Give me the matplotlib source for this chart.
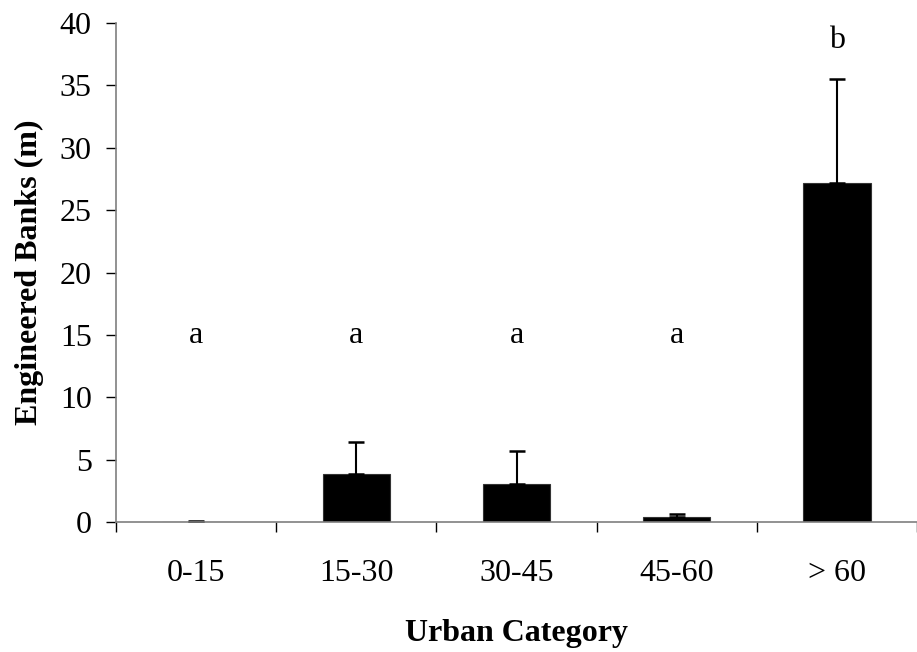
import matplotlib.pyplot as plt
from matplotlib.ticker import FixedLocator

# valeurs
categorias = ['0-15', '15-30', '30-45', '45-60', '> 60']
media = [0.0, 3.87, 3.05, 0.37, 27.2]
erro = [0.05, 2.52, 2.68, 0.29, 8.3]
letras = ['a', 'a', 'a', 'a', 'b']
letras_y = [14.35, 14.35, 14.35, 14.35, 38.0]

plt.rcParams['font.family'] = ['Liberation Serif', 'DejaVu Serif']

fig = plt.figure(figsize=(9.17, 6.52), dpi=100)
ax = fig.add_axes([0.1265, 0.1994, 0.8735, 0.7653])

x = list(range(len(categorias)))
ax.bar(x, media, width=0.42, color='black', edgecolor='#333333', linewidth=0.8, zorder=2)
ax.errorbar(x, media, yerr=[[0] * len(erro), erro], fmt='none', ecolor='black',
            elinewidth=1.5, capsize=5.6, capthick=1.8, zorder=3)

# letras de significancia (posicao pela linha de base)
for xi, txt, yi in zip(x, letras, letras_y):
    ax.text(xi, yi, txt, ha='center', va='baseline', fontsize=23)

ax.set_xlim(-0.5, 4.5)
ax.set_ylim(0, 40)
ax.set_yticks(range(0, 41, 5))
ax.set_xticks(x)
ax.set_xticklabels(categorias, fontsize=23)
ax.xaxis.set_minor_locator(FixedLocator([i - 0.5 for i in range(len(categorias) + 1)]))
ax.tick_params(axis='x', which='major', length=0, pad=27)
ax.tick_params(axis='x', which='minor', length=7.5, width=1, direction='out', color='black')
ax.tick_params(axis='y', which='major', length=7.5, width=1, direction='out', labelsize=23, pad=10)

for lado in ['top', 'right']:
    ax.spines[lado].set_visible(False)
for lado in ['left', 'bottom']:
    ax.spines[lado].set_color('#7f7f7f')
    ax.spines[lado].set_linewidth(1.2)
    ax.spines[lado].set_zorder(4)

ax.set_xlabel('Urban Category', fontsize=23, fontweight='bold', labelpad=22)
ax.set_ylabel('Engineered Banks (m)', fontsize=23, fontweight='bold', labelpad=11)

fig.savefig('out.png', dpi=100)
